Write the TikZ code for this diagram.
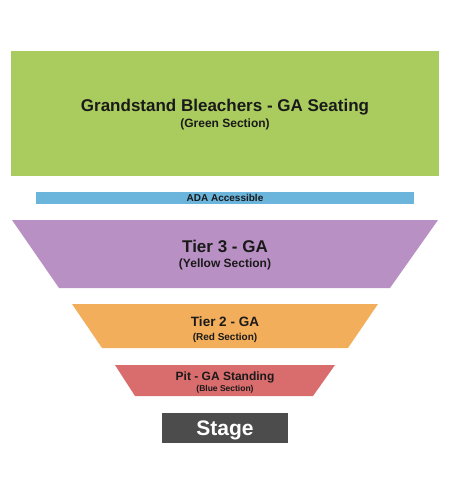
\documentclass[tikz,border=0pt]{standalone}
\usepackage{fontspec}
\setmainfont{Liberation Sans}
\usetikzlibrary{positioning}
\definecolor{greenbg}{HTML}{AACB5D}
\definecolor{adabg}{HTML}{6BB5DC}
\definecolor{tierthree}{HTML}{B990C3}
\definecolor{tiertwo}{HTML}{F3AE5B}
\definecolor{pitbg}{HTML}{D96C6C}
\definecolor{stagebg}{HTML}{4C4C4C}
\definecolor{labeltext}{HTML}{1A1A1A}
\newcommand{\fsz}[1]{\fontsize{#1}{#1}\selectfont\bfseries}

\tikzset{
  section/.style={draw=none},
  title/.style={inner sep=0pt,text=labeltext,font=\fsz{17}},
  sub/.style={inner sep=0pt,text=labeltext,font=\fsz{12}}
}

\begin{document}
\begin{tikzpicture}[x=1pt,y=-1pt]
        \useasboundingbox (0,0) rectangle (450,500);
        % seating areas
        \fill[greenbg] (11,51) rectangle (439,176);
        \fill[adabg] (36,192) rectangle (414,204);
        \fill[tierthree] (12,220) -- (438,220) -- (390,288) -- (59,288) -- cycle;
        \fill[tiertwo] (72,304) -- (378,304) -- (348,348) -- (102,348) -- cycle;
        \fill[pitbg] (115,365) -- (335,365) -- (313,396) -- (135,396) -- cycle;
        \fill[stagebg] (162,413) rectangle (288,443);
        % labels
        \node[title] (grand) at (225,107.5) {Grandstand Bleachers - GA Seating};
        \node[sub] (grandsub) at (225,124) {(Green Section)};
        \node[sub,font=\fsz{10}] (ada) at (225,198) {ADA Accessible};
        \node[title] (tier3) at (225,246.5) {Tier 3 - GA};
        \node[sub] (tier3sub) at (225,264.5) {(Yellow Section)};
        \node[title,font=\fsz{13.5}] (tier2) at (225,321.5) {Tier 2 - GA};
        \node[sub,font=\fsz{10}] (tier2sub) at (225,338) {(Red Section)};
        \node[sub] (pit) at (225,377.5) {Pit - GA Standing};
        \node[sub,font=\fsz{8.5}] (pitsub) at (225,389.5) {(Blue Section)};
        \node[title,font=\fsz{21},text=white] (stage) at (225,430) {Stage};
      \end{tikzpicture}
\end{document}
